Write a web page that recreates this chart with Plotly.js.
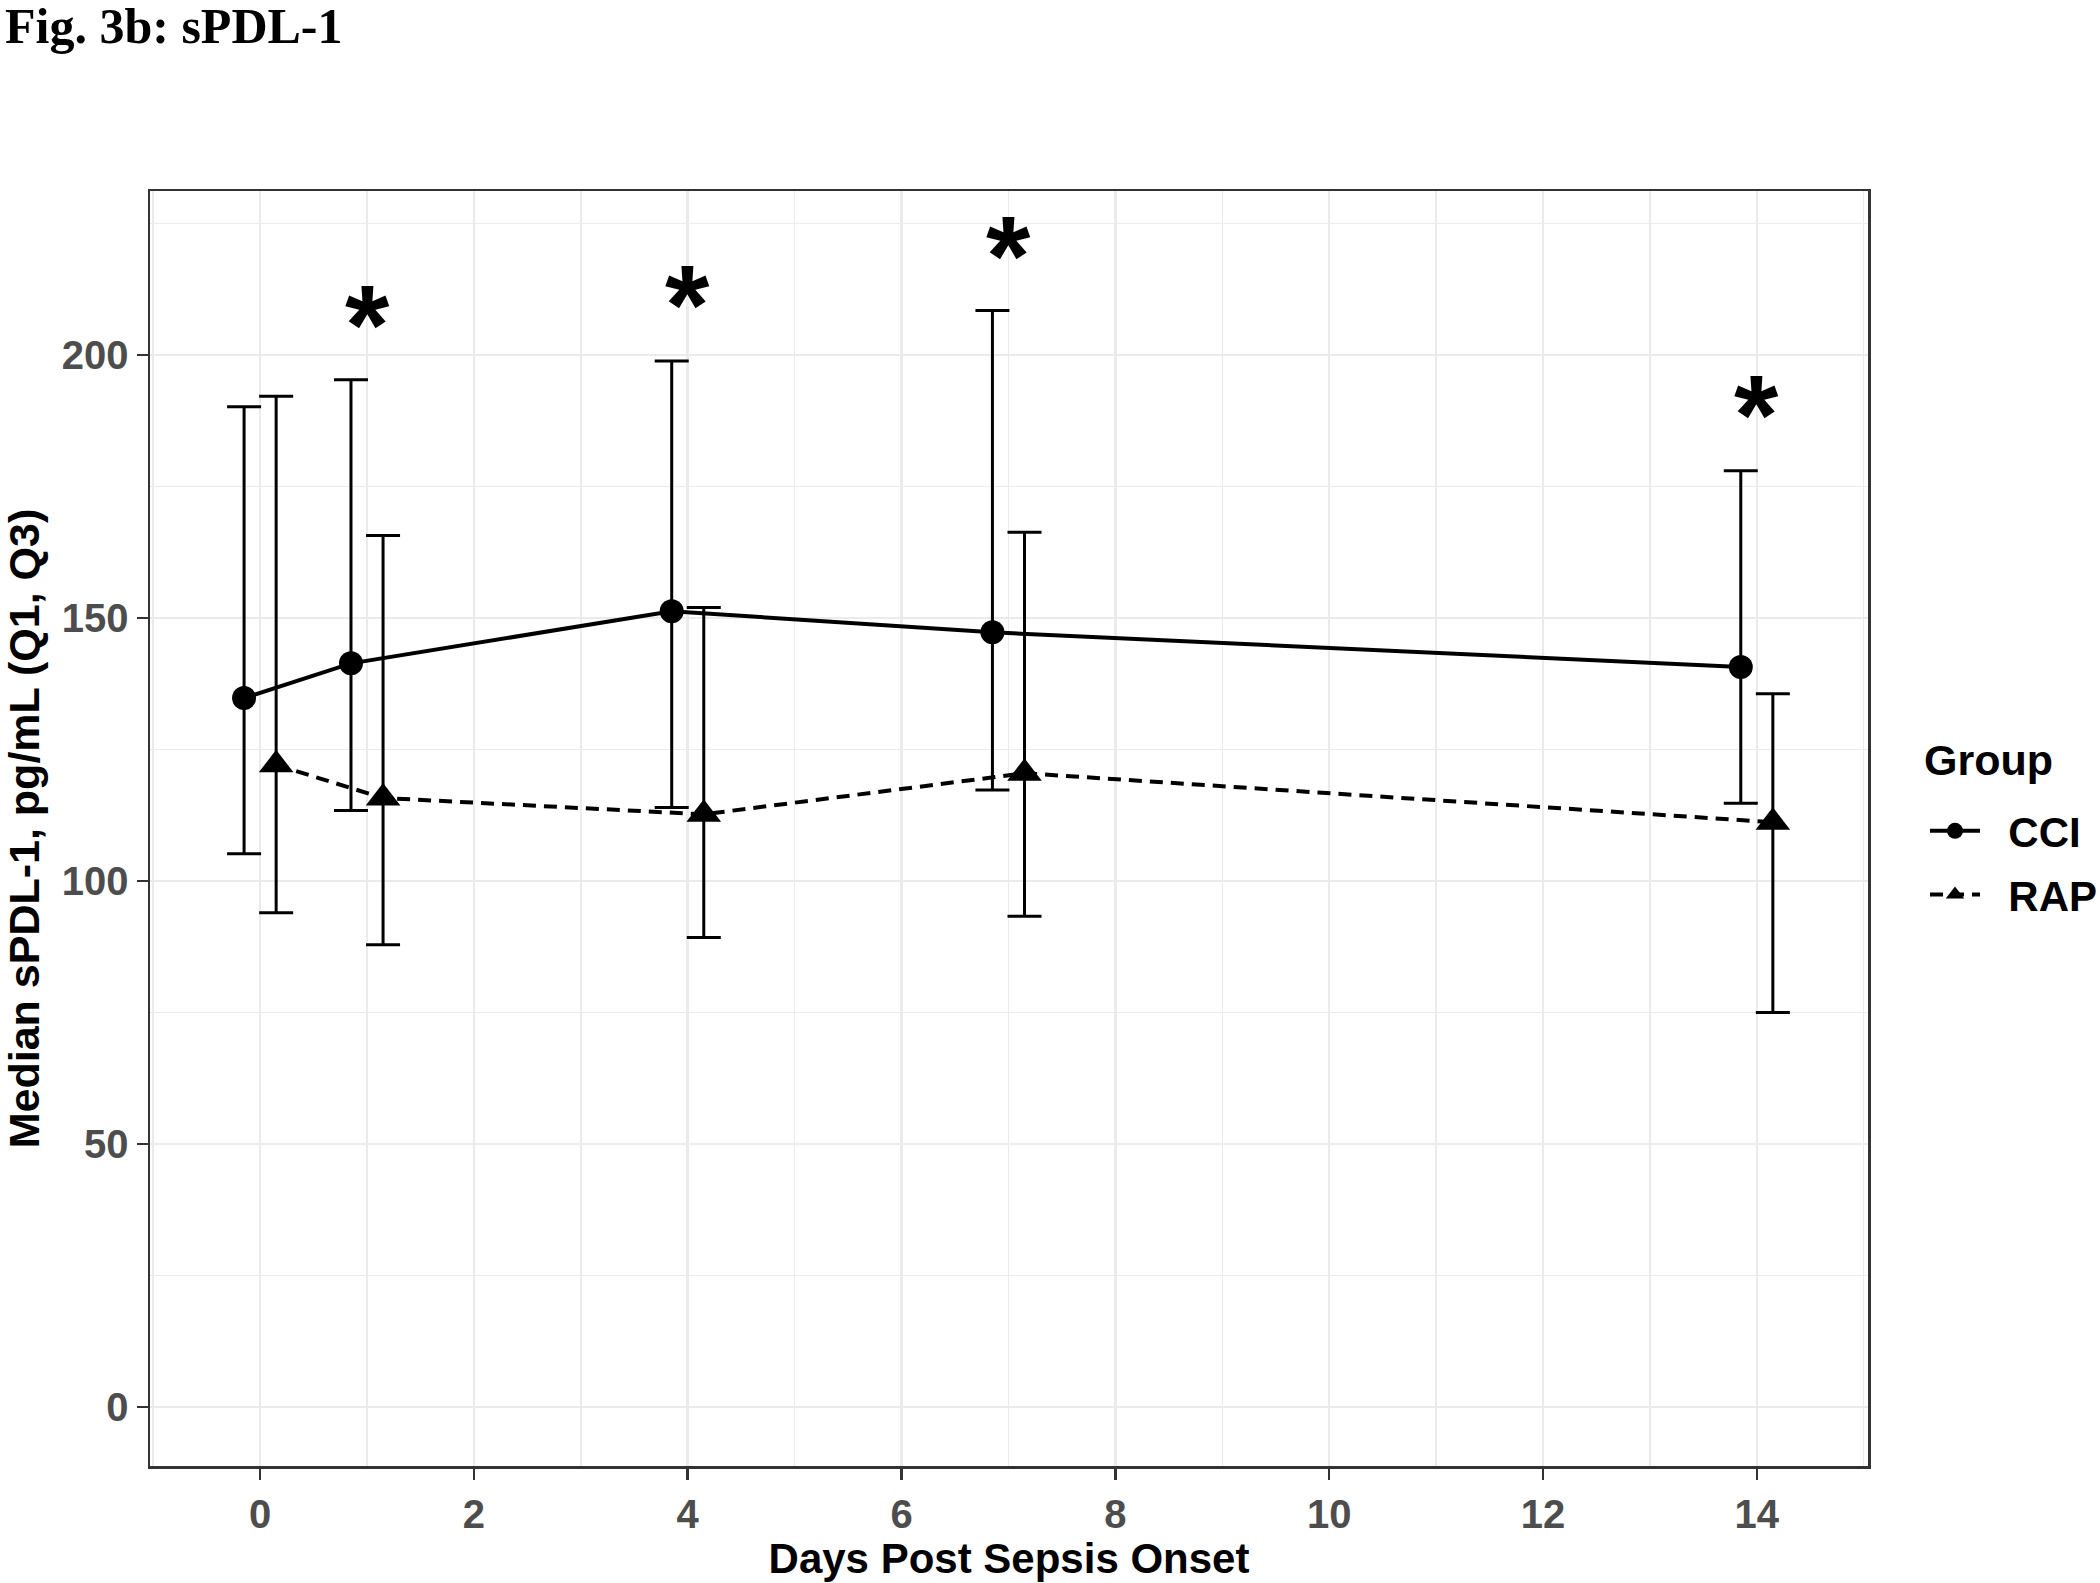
<!DOCTYPE html>
<html>
<head>
<meta charset="utf-8">
<script src="https://cdn.plot.ly/plotly-3.0.1.min.js"></script>
<style>html,body{margin:0;padding:0;background:#fff;}#chart{width:2100px;height:1583px;}</style>
</head>
<body>
<div id="chart"></div>
<script>
// ---- data ----
const days = [0, 1, 4, 7, 14];
const groups = ["CCI", "RAP"];
const legendTitle = "Group";
const cciMedian = [134.8, 141.4, 151.3, 147.3, 140.7];
const cciQ1     = [105.2, 113.4, 114.0, 117.3, 114.8];
const cciQ3     = [190.2, 195.3, 198.9, 208.5, 178.0];
const rapMedian = [122.1, 115.8, 112.7, 120.5, 111.2];
const rapQ1     = [94.0, 87.9, 89.3, 93.3, 75.0];
const rapQ3     = [192.2, 165.7, 152.0, 166.3, 135.6];
const sigDays   = [1, 4, 7, 14];
const sigLabelY = [209.5, 213.3, 222.5, 192.3];
const sigText   = ["*", "*", "*", "*"];
const xTicks = [0, 2, 4, 6, 8, 10, 12, 14];
const yTicks = [0, 50, 100, 150, 200];

// ---- styling / layout ----
const DODGE = 0.15;
const FONT = "Liberation Sans, Arial, sans-serif";
const W = 2100, H = 1583;
const M = {l: 150, r: 232, t: 191, b: 117};
const PW = W - M.l - M.r, PH = H - M.t - M.b;
const px2paperX = px => (px - M.l) / PW;
const px2paperY = py => 1 - (py - M.t) / PH;
const NBSP = "\u00A0\u00A0";

function mkTrace(name, med, q1, q3, sign, symbol, msize, dash, grp) {
  return {
    type: "scatter",
    mode: "lines+markers",
    name: NBSP + name,
    legendgroup: grp,
    x: days.map(d => d + sign * DODGE),
    y: med,
    line: {color: "#000", width: 4, dash: dash},
    marker: {color: "#000", size: msize, symbol: symbol},
    error_y: {
      type: "data", symmetric: false,
      array: q3.map((v, i) => v - med[i]),
      arrayminus: med.map((v, i) => v - q1[i]),
      color: "#000", thickness: 3, width: 17
    },
    hoverinfo: "x+y"
  };
}

const traces = [
  mkTrace(groups[0], cciMedian, cciQ1, cciQ3, -1, "circle", 24, "solid", "g1"),
  mkTrace(groups[1], rapMedian, rapQ1, rapQ3, +1, "triangle-up", 30, "13px,8px", "g2")
];

const annotations = sigDays.map((d, i) => ({
  x: d, y: sigLabelY[i], xref: "x", yref: "y",
  text: sigText[i], showarrow: false,
  xanchor: "center", yanchor: "middle", yshift: -19,
  font: {family: FONT, size: 114, color: "#000", weight: "bold"}
}));
// legend title placed as text to reproduce the ggplot spacing
annotations.push({
  x: px2paperX(1922), y: px2paperY(760), xref: "paper", yref: "paper", text: legendTitle,
  showarrow: false, xanchor: "left", yanchor: "middle",
  font: {family: FONT, size: 43, color: "#000", weight: "bold"}
});

const gridCol = "#EBEBEB";
const layout = {
  width: W, height: H,
  paper_bgcolor: "#fff", plot_bgcolor: "#fff",
  margin: {l: M.l, r: M.r, t: M.t, b: M.b, pad: 0, autoexpand: false},
  font: {family: FONT, color: "#000"},
  title: {
    text: "Fig. 3b: sPDL-1",
    font: {family: "Liberation Serif, Times New Roman, serif", size: 50, color: "#000", weight: "bold"},
    x: 0, xref: "container", xanchor: "left",
    y: 1, yref: "container", yanchor: "top", pad: {t: 8, l: 5}
  },
  xaxis: {
    range: [-1.03, 15.04],
    tickvals: xTicks, ticktext: xTicks.map(String),
    showgrid: true, gridcolor: gridCol, gridwidth: 2.5,
    minor: {dtick: 1, tick0: 0, showgrid: true, gridcolor: gridCol, gridwidth: 1.5, ticks: ""},
    zeroline: false,
    showline: true, linecolor: "#333", linewidth: 2.5, mirror: true,
    ticks: "outside", ticklen: 11, tickwidth: 2.5, tickcolor: "#333",
    tickfont: {family: FONT, size: 40, color: "#4D4D4D", weight: "bold"},
    title: {text: "Days Post Sepsis Onset", font: {family: FONT, size: 42, color: "#000", weight: "bold"}, standoff: 8}
  },
  yaxis: {
    range: [-11.2, 231.2],
    tickvals: yTicks, ticktext: yTicks.map(String),
    showgrid: true, gridcolor: gridCol, gridwidth: 2.5,
    minor: {dtick: 25, tick0: 0, showgrid: true, gridcolor: gridCol, gridwidth: 1.5, ticks: ""},
    zeroline: false,
    showline: true, linecolor: "#333", linewidth: 2.5, mirror: true,
    ticks: "outside", ticklen: 11, tickwidth: 2.5, tickcolor: "#333",
    tickfont: {family: FONT, size: 40, color: "#4D4D4D", weight: "bold"},
    title: {text: "Median sPDL-1, pg/mL (Q1, Q3)", font: {family: FONT, size: 43, color: "#000", weight: "bold"}, standoff: 12}
  },
  showlegend: true,
  legend: {
    x: px2paperX(1925), xanchor: "left",
    y: px2paperY(863), yanchor: "middle",
    bgcolor: "rgba(0,0,0,0)", borderwidth: 0,
    font: {family: FONT, size: 42, color: "#000", weight: "bold"},
    tracegroupgap: 6, itemwidth: 50
  },
  annotations: annotations
};

Plotly.newPlot("chart", traces, layout, {displayModeBar: false, staticPlot: true});
</script>
</body>
</html>
